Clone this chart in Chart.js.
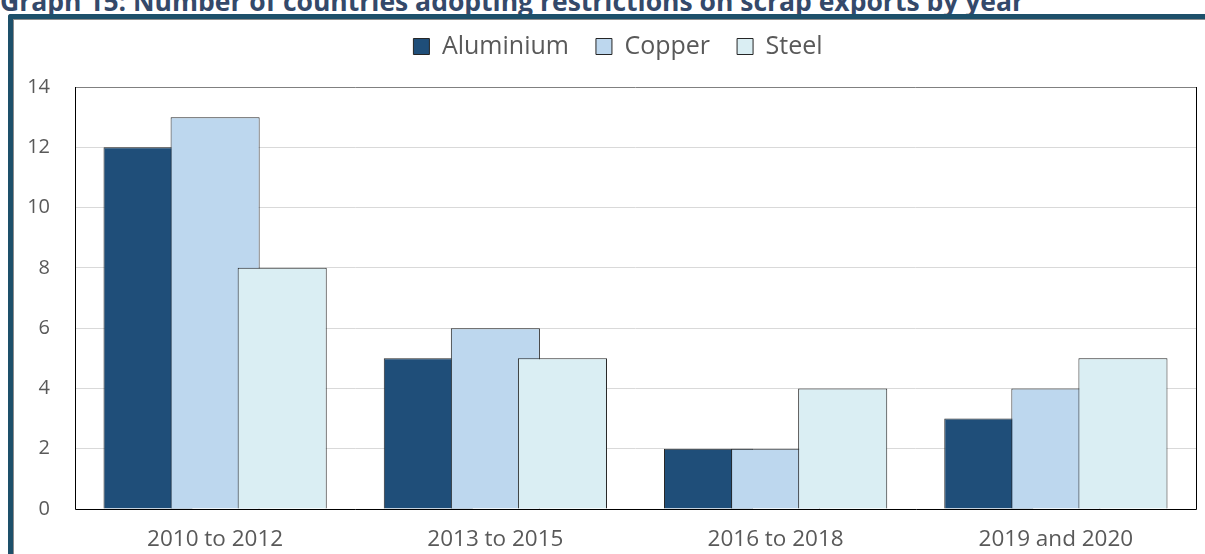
<!DOCTYPE html>
<html lang="en">
<head>
<meta charset="UTF-8">
<title>Graph 15: Number of countries adopting restrictions on scrap exports by year</title>
<script src="https://cdn.jsdelivr.net/npm/chart.js"></script>
<style>
  body {
    margin: 0;
    width: 1205px;
    height: 554px;
    overflow: hidden;
    background: #fff;
    position: relative;
    font-family: 'Open Sans', sans-serif;
  }
  #title {
    position: absolute;
    left: 0;
    top: -12px;
    font-size: 26.5px;
    font-weight: bold;
    color: #34496a;
    white-space: nowrap;
    line-height: 1;
  }
  .frame {
    position: absolute;
    left: 8px;
    top: 14px;
    width: 1220px;
    height: 600px;
    border-top: 5px solid #1d506a;
    border-left: 5px solid #1d506a;
    border-top-left-radius: 3px;
  }
  .frame-inner {
    position: absolute;
    left: 13px;
    top: 19px;
    width: 1210px;
    height: 600px;
    border-top: 1px solid #8c8c8c;
    border-left: 1px solid #8c8c8c;
  }
  #chart {
    position: absolute;
    left: 0;
    top: 0;
  }
</style>
</head>
<body>
  <div id="title">Graph 15: Number of countries adopting restrictions on scrap exports by year</div>
  <div class="frame"></div>
  <div class="frame-inner"></div>
  <canvas id="chart" width="1205" height="554"></canvas>

<script>
  // values
  const periods = ['2010 to 2012', '2013 to 2015', '2016 to 2018', '2019 and 2020'];
  const aluminium = [12, 5, 2, 3];
  const copper = [13, 6, 2, 4];
  const steel = [8, 5, 4, 5];
  const yTicks = [0, 2, 4, 6, 8, 10, 12, 14];

  Chart.defaults.font.family = "'Open Sans', sans-serif";
  Chart.defaults.color = '#595959';

  // draw datasets left to right so the right-hand bar sits on top (like Excel overlap)
  const drawInOrder = {
    id: 'drawInOrder',
    beforeDatasetsDraw(chart) {
      chart.getSortedVisibleDatasetMetas().forEach(meta => meta.controller.draw());
      return false;
    }
  };

  // extra room below the legend, and centre it a bit to the right like the original
  const legendGap = {
    id: 'legendGap',
    beforeInit(chart) {
      const fit = chart.legend.fit;
      chart.legend.fit = function () {
        fit.bind(chart.legend)();
        this.height += 18;
      };
    },
    afterLayout(chart) {
      chart.legend.left += 40;
    }
  };

  // plot area box
  const plotBorder = {
    id: 'plotBorder',
    afterDraw(chart) {
      const { ctx, chartArea: a } = chart;
      ctx.save();
      ctx.lineWidth = 1;
      ctx.strokeStyle = '#808080';
      ctx.beginPath();
      ctx.moveTo(a.left, a.top + 0.5);
      ctx.lineTo(a.right, a.top + 0.5);
      ctx.stroke();
      ctx.strokeStyle = '#000';
      ctx.beginPath();
      ctx.moveTo(a.left + 0.5, a.top);
      ctx.lineTo(a.left + 0.5, a.bottom + 0.5);
      ctx.lineTo(a.right + 0.5, a.bottom + 0.5);
      ctx.lineTo(a.right + 0.5, a.top);
      ctx.stroke();
      ctx.restore();
    }
  };

  const ctx = document.getElementById('chart').getContext('2d');
  const chart = new Chart(ctx, {
    type: 'bar',
    data: {
      labels: periods,
      datasets: [
        { label: 'Aluminium', data: aluminium, backgroundColor: '#1f4e79', borderColor: '#262626', borderWidth: 1 },
        { label: 'Copper', data: copper, backgroundColor: '#bdd7ee', borderColor: '#262626', borderWidth: 1 },
        { label: 'Steel', data: steel, backgroundColor: '#daeef3', borderColor: '#262626', borderWidth: 1 }
      ]
    },
    options: {
      responsive: false,
      animation: false,
      categoryPercentage: 0.718,
      barPercentage: 1.328,
      layout: { padding: { top: 7, left: 0, right: 9, bottom: 0 } },
      plugins: {
        legend: {
          position: 'top',
          labels: {
            boxWidth: 16,
            boxHeight: 16,
            padding: 27,
            color: '#595959',
            font: { size: 25 }
          }
        },
        tooltip: { enabled: false }
      },
      scales: {
        x: {
          grid: { display: false },
          border: { display: false },
          ticks: { font: { size: 22.5 }, padding: 9, maxRotation: 0 },
          afterFit(scale) { scale.height = 45; }
        },
        y: {
          min: yTicks[0],
          max: yTicks[yTicks.length - 1],
          border: { display: false },
          grid: {
            drawTicks: false,
            color: c => (c.tick.value === yTicks[0] || c.tick.value === yTicks[yTicks.length - 1]) ? 'rgba(0,0,0,0)' : '#d9d9d9'
          },
          ticks: {
            stepSize: 2,
            padding: 25,
            font: { size: 20 }
          },
          afterFit(scale) { scale.width = 75; }
        }
      }
    },
    plugins: [drawInOrder, legendGap, plotBorder]
  });
</script>
</body>
</html>
